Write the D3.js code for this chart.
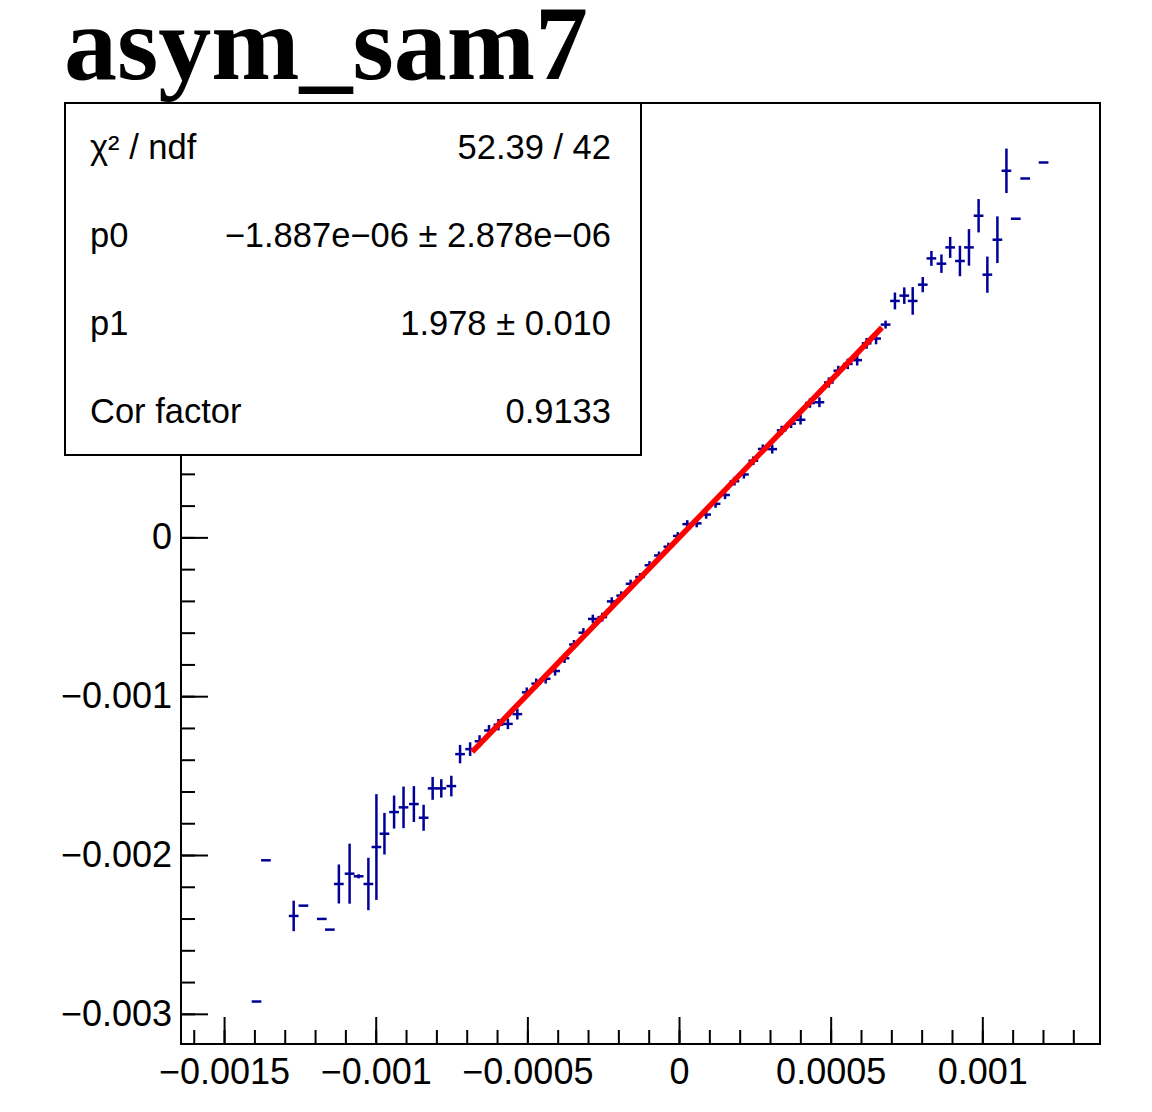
<!DOCTYPE html>
<html>
<head>
<meta charset="utf-8">
<script src="https://cdn.jsdelivr.net/npm/d3@7/dist/d3.min.js"></script>
<style>
  html, body { margin: 0; padding: 0; background: #fff; }
  svg { display: block; }
</style>
</head>
<body>
<script>
// ---------------- DATA (values in units of 1e-6) ----------------
const UNIT = 1e-6;
const pointX = [
  -1393.0, -1361.9, -1270.5, -1238.4, -1177.8, -1151.3, -1121.5, -1086.1, -1056.3, -1024.2,
  -997.7, -971.2, -939.4, -908.3, -874.2, -842.1, -812.3, -783.8, -750.7, -721.9, -688.7,
  -657.6, -626.5, -595.4, -564.2, -533.1, -502.0, -470.9, -439.7, -408.6, -377.5,
  -346.4, -315.2, -284.1, -253.0, -221.9, -190.7, -159.6, -128.5, -97.4, -66.2,
  -35.1, -4.0, 27.2, 58.3, 89.4, 120.5, 151.7, 182.8, 213.9, 245.0,
  276.2, 307.3, 338.4, 369.5, 400.7, 431.8, 462.9, 494.0, 525.2, 556.3,
  587.4, 618.6, 649.7,
  681.1, 711.9, 742.7, 770.5, 803.6, 832.1, 865.2, 894.0, 926.2, 956.0,
  987.7, 1016.6, 1049.7, 1079.5, 1110.3, 1141.4, 1202.0
];
const pointY = [
  -2922.6, -2033.3, -2383.6, -2318.9, -2402.5, -2469.8, -2182.4, -2117.6, -2134.0, -2182.4,
  -1949.7, -1866.0, -1729.6, -1700.0, -1679.2, -1765.4, -1580.5, -1580.5, -1566.0, -1364.8, -1333.3,
  -1283.7, -1215.9, -1179.6, -1174.5, -1113.0, -976.0, -920.7, -890.5, -841.5, -761.2,
  -674.5, -600.2, -513.6, -502.3, -403.1, -366.5, -292.4, -249.8, -175.7, -113.9,
  -58.7, 9.1, 83.3, 88.2, 143.5, 211.3, 266.8, 353.4, 396.0, 482.7,
  557.0, 555.6, 673.8, 716.4, 740.4, 845.9, 850.8, 975.2, 1049.5, 1092.2,
  1116.0, 1221.7, 1251.8,
  1339.6, 1488.7, 1522.0, 1488.7, 1591.2, 1756.6, 1723.3, 1825.8, 1740.3, 1825.8,
  2025.2, 1654.1, 1874.2, 2308.2, 2006.3, 2259.7, 2360.4
];
const pointEY = [
  0, 0, 96, 0, 0, 0, 123, 189, 13, 165,
  333, 131, 104, 131, 113, 82, 72, 58, 65, 58, 43,
  38, 35, 36, 33, 34, 31, 32, 30, 29, 30,
  28, 29, 27, 28, 26, 27, 26, 25, 26, 25,
  25, 24, 25, 25, 26, 25, 26, 27, 26, 27,
  28, 28, 29, 28, 30, 30, 31, 32, 31, 33,
  34, 34, 36,
  25, 53, 52, 87, 48, 47, 58, 66, 96, 115,
  105, 114, 147, 140, 0, 0, 0
];
const binHalfWidth = 16.0; // horizontal error (x), units of 1e-6

// fit parameters
const fitP0 = -1.887e-06;
const fitP1 = 1.978;
const fitRange = [-682, 669]; // units of 1e-6

// stat box
const statLabels = ["\u03C7\u00B2 / ndf", "p0", "p1", "Cor factor"];
const statValues = ["52.39 / 42", "\u22121.887e\u221206 \u00B1 2.878e\u221206", "1.978 \u00B1 0.010", "0.9133"];

// axes
const xDomain = [-1642, 1388];
const yDomain = [-3190, 2735];
const xTickValues = [-1500, -1000, -500, 0, 500, 1000];
const xTickLabels = ["\u22120.0015", "\u22120.001", "\u22120.0005", "0", "0.0005", "0.001"];
const yTickValues = [-3000, -2000, -1000, 0];
const yTickLabels = ["\u22120.003", "\u22120.002", "\u22120.001", "0"];
const xMinorStep = 100;
const yMinorStep = 200;
const titleText = "asym_sam7";

// ---------------- LAYOUT ----------------
const W = 1152, H = 1112;
const frame = {left: 181, right: 1100, top: 103, bottom: 1044};
const box = {left: 65, right: 641, top: 103, bottom: 455};
const dataColor = "#000099";

const svg = d3.select("body").append("svg").attr("width", W).attr("height", H);
svg.append("rect").attr("width", W).attr("height", H).attr("fill", "#fff");

const x = d3.scaleLinear().domain(xDomain.map(v => v * UNIT)).range([frame.left, frame.right]);
const y = d3.scaleLinear().domain(yDomain.map(v => v * UNIT)).range([frame.bottom, frame.top]);

// title
svg.append("text").attr("x", 64).attr("y", 79)
  .attr("font-family", "'Liberation Serif', 'Times New Roman', serif")
  .attr("font-weight", "bold").attr("font-size", 106).attr("fill", "#000")
  .text(titleText);

// frame
svg.append("rect").attr("x", frame.left).attr("y", frame.top)
  .attr("width", frame.right - frame.left).attr("height", frame.bottom - frame.top)
  .attr("fill", "none").attr("stroke", "#000").attr("stroke-width", 2);

// minor ticks
function rangeSteps(lo, hi, step) {
  const out = [];
  const s = Math.ceil(lo / step), e = Math.floor(hi / step);
  for (let i = s; i <= e; i++) out.push(i * step * UNIT);
  return out;
}
const xMinor = rangeSteps(xDomain[0], xDomain[1], xMinorStep);
const yMinor = rangeSteps(yDomain[0], yDomain[1], yMinorStep);

const gxMinor = svg.append("g").attr("transform", `translate(0,${frame.bottom})`)
  .call(d3.axisBottom(x).tickValues(xMinor).tickSize(-14).tickFormat(""));
const gyMinor = svg.append("g").attr("transform", `translate(${frame.left},0)`)
  .call(d3.axisLeft(y).tickValues(yMinor).tickSize(-14).tickFormat(""));

const gx = svg.append("g").attr("transform", `translate(0,${frame.bottom})`)
  .call(d3.axisBottom(x).tickValues(xTickValues.map(v => v * UNIT)).tickSize(-27).tickPadding(15)
    .tickFormat((d, i) => xTickLabels[i]));
const gy = svg.append("g").attr("transform", `translate(${frame.left},0)`)
  .call(d3.axisLeft(y).tickValues(yTickValues.map(v => v * UNIT)).tickSize(-27).tickPadding(9)
    .tickFormat((d, i) => yTickLabels[i]));

[gxMinor, gyMinor, gx, gy].forEach(g => {
  g.select(".domain").remove();
  g.selectAll("line").attr("stroke", "#000").attr("stroke-width", 2);
  g.selectAll("text").attr("font-family", "'Liberation Sans', Arial, Helvetica, sans-serif")
    .attr("font-size", 36).attr("fill", "#000");
});
gx.selectAll("text").attr("dy", "0").attr("y", 40);

// data
const clipId = "plotclip";
svg.append("clipPath").attr("id", clipId).append("rect")
  .attr("x", frame.left).attr("y", frame.top)
  .attr("width", frame.right - frame.left).attr("height", frame.bottom - frame.top);

const pts = pointX.map((v, i) => ({x: v * UNIT, y: pointY[i] * UNIT, ey: pointEY[i] * UNIT, ex: binHalfWidth * UNIT}));
const gData = svg.append("g").attr("clip-path", `url(#${clipId})`);
gData.selectAll("line.hx").data(pts).join("line").attr("class", "hx")
  .attr("x1", d => x(d.x - d.ex)).attr("x2", d => x(d.x + d.ex))
  .attr("y1", d => y(d.y)).attr("y2", d => y(d.y))
  .attr("stroke", dataColor).attr("stroke-width", 2.5);
gData.selectAll("line.vy").data(pts.filter(d => d.ey > 0)).join("line").attr("class", "vy")
  .attr("x1", d => x(d.x)).attr("x2", d => x(d.x))
  .attr("y1", d => y(d.y - d.ey)).attr("y2", d => y(d.y + d.ey))
  .attr("stroke", dataColor).attr("stroke-width", 2.5);

// fit line
const fitPts = fitRange.map(v => ({x: v * UNIT, y: fitP0 + fitP1 * v * UNIT}));
gData.append("path").datum(fitPts)
  .attr("d", d3.line().x(d => x(d.x)).y(d => y(d.y)))
  .attr("fill", "none").attr("stroke", "#ff0000").attr("stroke-width", 5.5);

// stat box
svg.append("rect").attr("x", box.left).attr("y", box.top)
  .attr("width", box.right - box.left).attr("height", box.bottom - box.top)
  .attr("fill", "#fff").attr("stroke", "#000").attr("stroke-width", 2);
const rowH = (box.bottom - box.top) / statLabels.length;
const gStat = svg.append("g").attr("font-family", "'Liberation Sans', Arial, Helvetica, sans-serif")
  .attr("font-size", 34.5).attr("fill", "#000");
statLabels.forEach((s, i) => {
  const cy = box.top + rowH * (i + 0.5);
  gStat.append("text").attr("x", 90).attr("y", cy).attr("dy", "0.35em").text(s);
  gStat.append("text").attr("x", 611).attr("y", cy).attr("dy", "0.35em")
    .attr("text-anchor", "end").text(statValues[i]);
});
</script>
</body>
</html>
